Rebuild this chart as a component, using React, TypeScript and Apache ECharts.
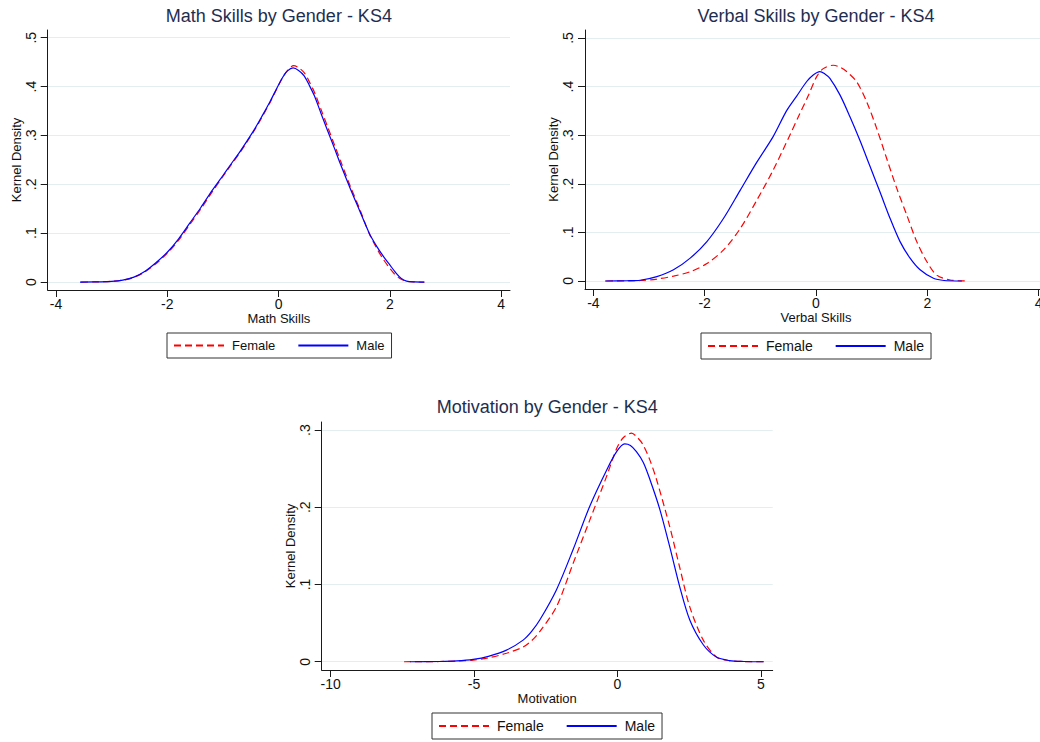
import React, { useEffect, useRef } from "react";
import * as echarts from "echarts";

// ---------- data ----------
const seriesNames = ["Female", "Male"];
const titles = [
  "Math Skills by Gender - KS4",
  "Verbal Skills by Gender - KS4",
  "Motivation by Gender - KS4",
];
const xNames = ["Math Skills", "Verbal Skills", "Motivation"];
const yName = "Kernel Density";
const skillXTicks = [-4, -2, 0, 2, 4];
const motivXTicks = [-10, -5, 0, 5];
const skillYTicks = [0, 0.1, 0.2, 0.3, 0.4, 0.5];
const motivYTicks = [0, 0.1, 0.2, 0.3];

const mathFemale: [number, number][] = [
  [-3.55, 0], [-3.3, 0.0003], [-3.0, 0.0014], [-2.8, 0.0038], [-2.6, 0.0095], [-2.4, 0.021],
  [-2.2, 0.038], [-2.0, 0.059], [-1.8, 0.085], [-1.6, 0.117], [-1.4, 0.149], [-1.19, 0.185],
  [-1.0, 0.216], [-0.87, 0.237], [-0.7, 0.264], [-0.56, 0.288], [-0.42, 0.313], [-0.29, 0.339],
  [-0.15, 0.368], [-0.02, 0.398], [0.08, 0.42], [0.17, 0.434], [0.27, 0.443], [0.37, 0.438],
  [0.47, 0.427], [0.56, 0.408], [0.65, 0.387], [0.77, 0.351], [0.89, 0.315], [1.01, 0.279],
  [1.12, 0.246], [1.3, 0.193], [1.46, 0.149], [1.63, 0.099], [1.76, 0.07], [1.88, 0.047],
  [1.98, 0.031], [2.08, 0.017], [2.18, 0.007], [2.3, 0.0015], [2.45, 0.0002], [2.62, 0],
];
const mathMale: [number, number][] = [
  [-3.57, 0], [-3.3, 0.0003], [-3.0, 0.0015], [-2.8, 0.004], [-2.6, 0.01], [-2.4, 0.022],
  [-2.2, 0.04], [-2.0, 0.061], [-1.8, 0.088], [-1.6, 0.12], [-1.4, 0.152], [-1.19, 0.188],
  [-1.0, 0.218], [-0.87, 0.239], [-0.7, 0.266], [-0.56, 0.29], [-0.42, 0.315], [-0.29, 0.341],
  [-0.15, 0.37], [-0.02, 0.399], [0.08, 0.42], [0.16, 0.432], [0.26, 0.438], [0.36, 0.433],
  [0.46, 0.422], [0.55, 0.403], [0.64, 0.382], [0.76, 0.346], [0.88, 0.31], [1.0, 0.275],
  [1.11, 0.242], [1.29, 0.191], [1.45, 0.148], [1.63, 0.1], [1.77, 0.072], [1.9, 0.05],
  [2.0, 0.035], [2.1, 0.02], [2.2, 0.008], [2.3, 0.002], [2.45, 0.0003], [2.62, 0],
];
const verbalFemale: [number, number][] = [
  [-3.77, 0], [-3.16, 0.001], [-2.86, 0.004], [-2.56, 0.01], [-2.26, 0.019], [-1.96, 0.036],
  [-1.66, 0.064], [-1.36, 0.108], [-1.06, 0.167], [-0.77, 0.228], [-0.47, 0.3], [-0.3, 0.342],
  [-0.14, 0.381], [0.01, 0.42], [0.13, 0.437], [0.31, 0.444], [0.43, 0.44], [0.55, 0.431],
  [0.73, 0.41], [0.91, 0.369], [1.09, 0.314], [1.27, 0.252], [1.45, 0.191], [1.63, 0.136],
  [1.81, 0.081], [1.99, 0.04], [2.17, 0.012], [2.41, 0.002], [2.71, 0],
];
const verbalMale: [number, number][] = [
  [-3.79, 0], [-3.4, 0.0005], [-3.16, 0.0015], [-2.86, 0.009], [-2.56, 0.023], [-2.26, 0.047],
  [-1.96, 0.081], [-1.66, 0.129], [-1.36, 0.187], [-1.06, 0.245], [-0.77, 0.297], [-0.53, 0.35],
  [-0.35, 0.38], [-0.17, 0.41], [-0.05, 0.424], [0.07, 0.431], [0.16, 0.426], [0.25, 0.417],
  [0.43, 0.383], [0.61, 0.338], [0.79, 0.289], [0.97, 0.236], [1.15, 0.183], [1.33, 0.129],
  [1.51, 0.081], [1.69, 0.047], [1.87, 0.023], [2.11, 0.0055], [2.3, 0.001], [2.62, 0],
];
const motivFemale: [number, number][] = [
  [-7.44, 0], [-6.2, 0.0003], [-5.6, 0.001], [-5.03, 0.002], [-4.5, 0.005], [-3.87, 0.011],
  [-3.29, 0.019], [-3.0, 0.027], [-2.71, 0.039], [-2.13, 0.071], [-1.55, 0.127], [-0.97, 0.183],
  [-0.38, 0.24], [-0.03, 0.276], [0.2, 0.29], [0.49, 0.296], [0.7, 0.29], [0.89, 0.281],
  [1.12, 0.262], [1.36, 0.236], [1.82, 0.175], [2.17, 0.122], [2.52, 0.071], [2.99, 0.028],
  [3.45, 0.006], [3.9, 0.0015], [4.4, 0.0003], [5.1, 0],
];
const motivMale: [number, number][] = [
  [-7.23, 0], [-6.2, 0.0003], [-5.6, 0.001], [-5.03, 0.003], [-4.5, 0.007], [-3.87, 0.015],
  [-3.29, 0.028], [-3.0, 0.039], [-2.71, 0.054], [-2.13, 0.093], [-1.55, 0.145], [-0.97, 0.201],
  [-0.38, 0.248], [-0.03, 0.272], [0.25, 0.282], [0.45, 0.28], [0.66, 0.272], [0.9, 0.258],
  [1.13, 0.236], [1.47, 0.198], [1.82, 0.149], [2.17, 0.097], [2.52, 0.054], [2.99, 0.022],
  [3.45, 0.006], [3.9, 0.0015], [4.4, 0.0003], [5.1, 0],
];

// ---------- layout ----------
const panels = [
  {
    grid: { left: 47.7, top: 30, width: 462.3, height: 260 },
    x: [-4.15, 4.16], y: [-0.0163, 0.5157], xTicks: skillXTicks, yTicks: skillYTicks,
    titleTop: 7, legend: { left: 167, top: 333, fontSize: 13 },
    data: [mathFemale, mathMale],
  },
  {
    grid: { left: 585, top: 30, width: 462, height: 259 },
    x: [-4.15, 4.15], y: [-0.0165, 0.5165], xTicks: skillXTicks, yTicks: skillYTicks,
    titleTop: 7, legend: { left: 701, top: 333, fontSize: 14 },
    data: [verbalFemale, verbalMale],
  },
  {
    grid: { left: 321.7, top: 422, width: 451, height: 248 },
    x: [-10.31, 5.41], y: [-0.0107, 0.3104], xTicks: motivXTicks, yTicks: motivYTicks,
    titleTop: 398, legend: { left: 432, top: 713, fontSize: 14 },
    data: [motivFemale, motivMale],
  },
];

const FONT = "'Liberation Sans', Arial, Helvetica, sans-serif";
const AXIS = "#1a1a1a";
const colors = ["#ff0000", "#0000ff"];
const lineTypes: any[] = [[7, 4], "solid"];

function fmtY(v: number) {
  if (Math.abs(v) < 1e-9) return "0";
  return Number(v.toFixed(1)).toString().replace(/^0\./, ".");
}

export default function App() {
  const ref = useRef<HTMLDivElement>(null);
  useEffect(() => {
    if (!ref.current) return;
    const chart = echarts.init(ref.current, null, { renderer: "svg" });
    const option: any = {
      animation: false,
      backgroundColor: "#ffffff",
      textStyle: { fontFamily: FONT },
      title: panels.map((p, i) => ({
        text: titles[i],
        left: p.grid.left + p.grid.width / 2,
        top: p.titleTop,
        textAlign: "center",
        padding: 0,
        textStyle: { fontSize: 18, fontWeight: "normal", color: "#1e2e50", fontFamily: FONT },
      })),
      legend: panels.map((p) => ({
        data: seriesNames,
        left: p.legend.left,
        top: p.legend.top,
        orient: "horizontal",
        itemWidth: 50,
        itemHeight: 14,
        itemGap: 22,
        padding: [6, 7, 6, 6],
        borderColor: "#333333",
        borderWidth: 1,
        backgroundColor: "#ffffff",
        selectedMode: false,
        itemStyle: { opacity: 0, borderWidth: 0 },
        textStyle: { fontSize: p.legend.fontSize, color: "#111", fontFamily: FONT, padding: [0, 0, 0, 3] },
      })),
      grid: panels.map((p) => ({ ...p.grid, containLabel: false, outerBoundsMode: "none" })),
      xAxis: panels.map((p, i) => ({
        type: "value",
        gridIndex: i,
        min: p.x[0],
        max: p.x[1],
        name: xNames[i],
        nameLocation: "middle",
        nameGap: 21,
        nameTextStyle: { fontSize: 13, color: "#111", fontFamily: FONT },
        axisLine: { show: true, onZero: false, lineStyle: { color: AXIS, width: 1 } },
        axisTick: { show: true, length: 7, customValues: p.xTicks, lineStyle: { color: AXIS } },
        axisLabel: {
          customValues: p.xTicks, margin: 7, fontSize: 14, color: "#111", fontFamily: FONT,
          formatter: (v: number) => String(v),
        },
        splitLine: { show: false },
      })),
      yAxis: panels.map((p, i) => ({
        type: "value",
        gridIndex: i,
        min: p.y[0],
        max: p.y[1],
        name: yName,
        nameLocation: "middle",
        nameGap: 25,
        nameRotate: 90,
        nameTextStyle: { fontSize: 13, color: "#111", fontFamily: FONT },
        axisLine: { show: true, onZero: false, lineStyle: { color: AXIS, width: 1 } },
        axisTick: { show: true, length: 7, customValues: p.yTicks, lineStyle: { color: AXIS } },
        axisLabel: {
          customValues: p.yTicks, rotate: 90, margin: 10, fontSize: 14, color: "#111", fontFamily: FONT,
          formatter: (v: number) => fmtY(v),
        },
        splitLine: { show: true, lineStyle: { color: "#e4eef0", width: 1 } },
      })),
      series: panels.flatMap((p, i) =>
        p.data.map((d, k) => ({
          type: "line",
          name: seriesNames[k],
          xAxisIndex: i,
          yAxisIndex: i,
          data: d,
          smooth: 0.3,
          symbol: "none",
          showSymbol: false,
          lineStyle: { color: colors[k], width: 1.2, type: lineTypes[k] },
          itemStyle: { color: colors[k] },
          z: 2 + k,
        }))
      ),
    };
    chart.setOption(option);
    return () => chart.dispose();
  }, []);
  return (
    <div
      ref={ref}
      style={{ position: "absolute", left: 0, top: 0, width: 1040, height: 742, background: "#fff" }}
    />
  );
}
